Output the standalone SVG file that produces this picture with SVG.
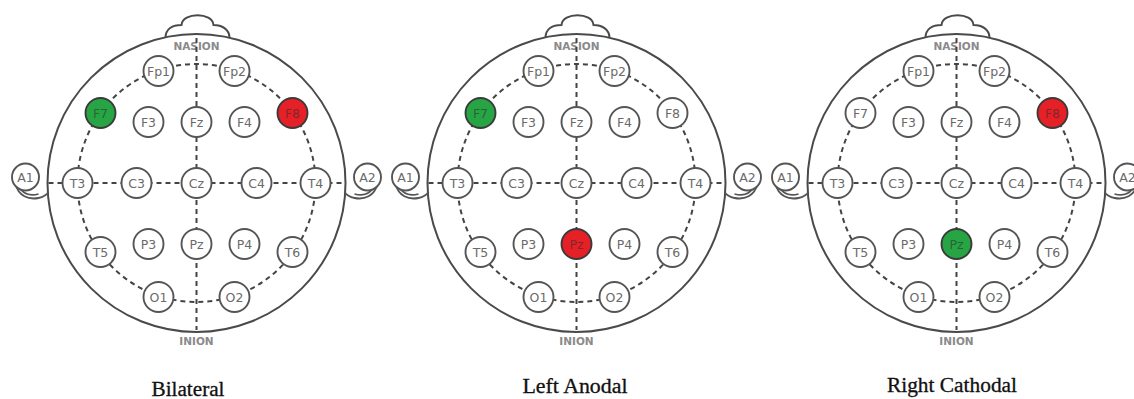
<svg xmlns="http://www.w3.org/2000/svg" xmlns:xlink="http://www.w3.org/1999/xlink" width="1134" height="399" viewBox="0 0 1134 399">
  <style>
    .outline { fill: none; stroke: #4a4a4a; stroke-width: 2; }
    .earline { fill: none; stroke: #555; stroke-width: 1.8; }
    .dash { fill: none; stroke: #444; stroke-width: 2; stroke-dasharray: 5 4; }
    .el circle { fill: #fff; stroke: #555; stroke-width: 1.9; }
    .el text { font-family: "DejaVu Sans", sans-serif; font-size: 12.5px; fill: #6a6a6a; text-anchor: middle; dominant-baseline: central; }
    .el.anode circle { fill: #27a544; stroke: #3a3a3a; }
    .el.cathode circle { fill: #e52127; stroke: #3a3a3a; }
    .el.anode text, .el.cathode text { fill: #2b2b2b; fill-opacity: 0.55; }
    .mark { font-family: "DejaVu Sans", sans-serif; font-size: 10.5px; font-weight: bold; fill: #8a8a8a; text-anchor: middle; }
    .caption { font-family: "Liberation Serif", "Times New Roman", serif; font-size: 20px; fill: #111; text-anchor: middle; stroke: #111; stroke-width: 0.3; }
  </style>
  <defs>
    <!-- scalp outline: head circle, nose and both ears -->
    <g id="scalp">
      <circle class="outline" cx="0" cy="0" r="149"/>
      <path class="outline" d="M -31 -145 C -31 -154 -24 -158 -15 -158 C -14 -171 16 -171 17 -158 C 25 -158 33 -154 33 -145"/>
      <path class="earline" d="M -181 1 C -178 13 -168 17 -158 15 C -153 14 -150 12 -148 9"/>
      <path class="earline" d="M -177 4 C -173 12 -165 13 -158 11"/>
      <path class="earline" d="M 181 1 C 178 13 168 17 158 15 C 153 14 150 12 148 9"/>
      <path class="earline" d="M 177 4 C 173 12 165 13 158 11"/>
      <text class="mark" x="0" y="-133">NASION</text>
      <text class="mark" x="0" y="162">INION</text>
    </g>
    <!-- 10-20 reference lines between electrode sites -->
    <g id="grid">
      <circle class="dash" cx="0" cy="0" r="119"/>
      <line class="dash" x1="0" y1="-145" x2="0" y2="147"/>
      <line class="dash" x1="-148" y1="0" x2="148" y2="0"/>
    </g>
  </defs>

  <!-- Bilateral montage -->
  <g id="bilateral" transform="translate(196.5,183)">
    <use xlink:href="#scalp"/>
    <g id="bilateral-connectors"><use xlink:href="#grid"/></g>
    <g id="bilateral-Fp1" class="el"><circle cx="-38" cy="-112" r="15"/><text x="-38" y="-112">Fp1</text></g>
    <g id="bilateral-Fp2" class="el"><circle cx="38" cy="-112" r="15"/><text x="38" y="-112">Fp2</text></g>
    <g id="bilateral-F7" class="el anode"><circle cx="-96" cy="-70" r="15"/><text x="-96" y="-70">F7</text></g>
    <g id="bilateral-F3" class="el"><circle cx="-48" cy="-61" r="15"/><text x="-48" y="-61">F3</text></g>
    <g id="bilateral-Fz" class="el"><circle cx="0" cy="-61" r="15"/><text x="0" y="-61">Fz</text></g>
    <g id="bilateral-F4" class="el"><circle cx="48" cy="-61" r="15"/><text x="48" y="-61">F4</text></g>
    <g id="bilateral-F8" class="el cathode"><circle cx="96" cy="-70" r="15"/><text x="96" y="-70">F8</text></g>
    <g id="bilateral-A1" class="el"><circle cx="-171" cy="-6" r="13.5"/><text x="-171" y="-6">A1</text></g>
    <g id="bilateral-T3" class="el"><circle cx="-119" cy="0" r="15"/><text x="-119" y="0">T3</text></g>
    <g id="bilateral-C3" class="el"><circle cx="-60" cy="0" r="15"/><text x="-60" y="0">C3</text></g>
    <g id="bilateral-Cz" class="el"><circle cx="0" cy="0" r="15"/><text x="0" y="0">Cz</text></g>
    <g id="bilateral-C4" class="el"><circle cx="60" cy="0" r="15"/><text x="60" y="0">C4</text></g>
    <g id="bilateral-T4" class="el"><circle cx="119" cy="0" r="15"/><text x="119" y="0">T4</text></g>
    <g id="bilateral-A2" class="el"><circle cx="171" cy="-6" r="13.5"/><text x="171" y="-6">A2</text></g>
    <g id="bilateral-T5" class="el"><circle cx="-96" cy="69" r="15"/><text x="-96" y="69">T5</text></g>
    <g id="bilateral-P3" class="el"><circle cx="-48" cy="61" r="15"/><text x="-48" y="61">P3</text></g>
    <g id="bilateral-Pz" class="el"><circle cx="0" cy="61" r="15"/><text x="0" y="61">Pz</text></g>
    <g id="bilateral-P4" class="el"><circle cx="48" cy="61" r="15"/><text x="48" y="61">P4</text></g>
    <g id="bilateral-T6" class="el"><circle cx="96" cy="69" r="15"/><text x="96" y="69">T6</text></g>
    <g id="bilateral-O1" class="el"><circle cx="-38" cy="114" r="15"/><text x="-38" y="114">O1</text></g>
    <g id="bilateral-O2" class="el"><circle cx="38" cy="114" r="15"/><text x="38" y="114">O2</text></g>
  </g>

  <!-- Left anodal montage -->
  <g id="left-anodal" transform="translate(576.5,183)">
    <use xlink:href="#scalp"/>
    <g id="left-anodal-connectors"><use xlink:href="#grid"/></g>
    <g id="left-anodal-Fp1" class="el"><circle cx="-38" cy="-112" r="15"/><text x="-38" y="-112">Fp1</text></g>
    <g id="left-anodal-Fp2" class="el"><circle cx="38" cy="-112" r="15"/><text x="38" y="-112">Fp2</text></g>
    <g id="left-anodal-F7" class="el anode"><circle cx="-96" cy="-70" r="15"/><text x="-96" y="-70">F7</text></g>
    <g id="left-anodal-F3" class="el"><circle cx="-48" cy="-61" r="15"/><text x="-48" y="-61">F3</text></g>
    <g id="left-anodal-Fz" class="el"><circle cx="0" cy="-61" r="15"/><text x="0" y="-61">Fz</text></g>
    <g id="left-anodal-F4" class="el"><circle cx="48" cy="-61" r="15"/><text x="48" y="-61">F4</text></g>
    <g id="left-anodal-F8" class="el"><circle cx="96" cy="-70" r="15"/><text x="96" y="-70">F8</text></g>
    <g id="left-anodal-A1" class="el"><circle cx="-171" cy="-6" r="13.5"/><text x="-171" y="-6">A1</text></g>
    <g id="left-anodal-T3" class="el"><circle cx="-119" cy="0" r="15"/><text x="-119" y="0">T3</text></g>
    <g id="left-anodal-C3" class="el"><circle cx="-60" cy="0" r="15"/><text x="-60" y="0">C3</text></g>
    <g id="left-anodal-Cz" class="el"><circle cx="0" cy="0" r="15"/><text x="0" y="0">Cz</text></g>
    <g id="left-anodal-C4" class="el"><circle cx="60" cy="0" r="15"/><text x="60" y="0">C4</text></g>
    <g id="left-anodal-T4" class="el"><circle cx="119" cy="0" r="15"/><text x="119" y="0">T4</text></g>
    <g id="left-anodal-A2" class="el"><circle cx="171" cy="-6" r="13.5"/><text x="171" y="-6">A2</text></g>
    <g id="left-anodal-T5" class="el"><circle cx="-96" cy="69" r="15"/><text x="-96" y="69">T5</text></g>
    <g id="left-anodal-P3" class="el"><circle cx="-48" cy="61" r="15"/><text x="-48" y="61">P3</text></g>
    <g id="left-anodal-Pz" class="el cathode"><circle cx="0" cy="61" r="15"/><text x="0" y="61">Pz</text></g>
    <g id="left-anodal-P4" class="el"><circle cx="48" cy="61" r="15"/><text x="48" y="61">P4</text></g>
    <g id="left-anodal-T6" class="el"><circle cx="96" cy="69" r="15"/><text x="96" y="69">T6</text></g>
    <g id="left-anodal-O1" class="el"><circle cx="-38" cy="114" r="15"/><text x="-38" y="114">O1</text></g>
    <g id="left-anodal-O2" class="el"><circle cx="38" cy="114" r="15"/><text x="38" y="114">O2</text></g>
  </g>

  <!-- Right cathodal montage -->
  <g id="right-cathodal" transform="translate(956.5,183)">
    <use xlink:href="#scalp"/>
    <g id="right-cathodal-connectors"><use xlink:href="#grid"/></g>
    <g id="right-cathodal-Fp1" class="el"><circle cx="-38" cy="-112" r="15"/><text x="-38" y="-112">Fp1</text></g>
    <g id="right-cathodal-Fp2" class="el"><circle cx="38" cy="-112" r="15"/><text x="38" y="-112">Fp2</text></g>
    <g id="right-cathodal-F7" class="el"><circle cx="-96" cy="-70" r="15"/><text x="-96" y="-70">F7</text></g>
    <g id="right-cathodal-F3" class="el"><circle cx="-48" cy="-61" r="15"/><text x="-48" y="-61">F3</text></g>
    <g id="right-cathodal-Fz" class="el"><circle cx="0" cy="-61" r="15"/><text x="0" y="-61">Fz</text></g>
    <g id="right-cathodal-F4" class="el"><circle cx="48" cy="-61" r="15"/><text x="48" y="-61">F4</text></g>
    <g id="right-cathodal-F8" class="el cathode"><circle cx="96" cy="-70" r="15"/><text x="96" y="-70">F8</text></g>
    <g id="right-cathodal-A1" class="el"><circle cx="-171" cy="-6" r="13.5"/><text x="-171" y="-6">A1</text></g>
    <g id="right-cathodal-T3" class="el"><circle cx="-119" cy="0" r="15"/><text x="-119" y="0">T3</text></g>
    <g id="right-cathodal-C3" class="el"><circle cx="-60" cy="0" r="15"/><text x="-60" y="0">C3</text></g>
    <g id="right-cathodal-Cz" class="el"><circle cx="0" cy="0" r="15"/><text x="0" y="0">Cz</text></g>
    <g id="right-cathodal-C4" class="el"><circle cx="60" cy="0" r="15"/><text x="60" y="0">C4</text></g>
    <g id="right-cathodal-T4" class="el"><circle cx="119" cy="0" r="15"/><text x="119" y="0">T4</text></g>
    <g id="right-cathodal-A2" class="el"><circle cx="171" cy="-6" r="13.5"/><text x="171" y="-6">A2</text></g>
    <g id="right-cathodal-T5" class="el"><circle cx="-96" cy="69" r="15"/><text x="-96" y="69">T5</text></g>
    <g id="right-cathodal-P3" class="el"><circle cx="-48" cy="61" r="15"/><text x="-48" y="61">P3</text></g>
    <g id="right-cathodal-Pz" class="el anode"><circle cx="0" cy="61" r="15"/><text x="0" y="61">Pz</text></g>
    <g id="right-cathodal-P4" class="el"><circle cx="48" cy="61" r="15"/><text x="48" y="61">P4</text></g>
    <g id="right-cathodal-T6" class="el"><circle cx="96" cy="69" r="15"/><text x="96" y="69">T6</text></g>
    <g id="right-cathodal-O1" class="el"><circle cx="-38" cy="114" r="15"/><text x="-38" y="114">O1</text></g>
    <g id="right-cathodal-O2" class="el"><circle cx="38" cy="114" r="15"/><text x="38" y="114">O2</text></g>
  </g>

  <!-- montage captions -->
  <g id="captions">
    <text class="caption" x="188" y="396" textLength="73" lengthAdjust="spacingAndGlyphs">Bilateral</text>
    <text class="caption" x="575" y="393" textLength="105" lengthAdjust="spacingAndGlyphs">Left Anodal</text>
    <text class="caption" x="952" y="392" textLength="130" lengthAdjust="spacingAndGlyphs">Right Cathodal</text>
  </g>
</svg>
